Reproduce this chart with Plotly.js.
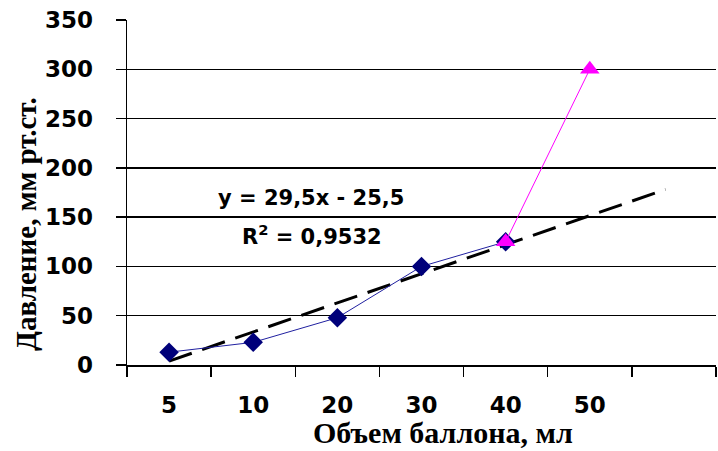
<!DOCTYPE html>
<html><head><meta charset="utf-8">
<script src="https://cdn.plot.ly/plotly-3.0.1.min.js"></script>
<style>html,body{margin:0;padding:0;background:#fff}#c{width:718px;height:451px}</style>
</head><body><div id="c"></div>
<script>
const categories = ["5","10","20","30","40","50"];
const blueValues = [13, 23, 48, 100, 125, null];
const pinkValues = [null, null, null, null, 125, 300];
const trendSlope = 29.5, trendIntercept = -25.5;
const trendStart = 1, trendEnd = 6.9;
const yTicks = [0,50,100,150,200,250,300,350];

const xIdx = categories.map((c,i)=>i+1);
const trendX = [trendStart, trendEnd];
const trendY = trendX.map(x=>trendSlope*x+trendIntercept);

const traces = [
  {x: trendX, y: trendY, mode:'lines', line:{color:'#000', width:3, dash:'24px,11px'}, hoverinfo:'skip'},
  {x: xIdx, y: blueValues, mode:'lines+markers', line:{color:'#2020a0', width:1}, marker:{symbol:'diamond', size:15, color:'#00007a'}},
  {x: xIdx, y: pinkValues, mode:'lines+markers', line:{color:'#ff00ff', width:1}, marker:{symbol:'triangle-up', size:17, color:'#ff00ff'}}
];
const boundaries = [];
for (let i=0;i<=categories.length+1;i++) boundaries.push(i+0.5);

const layout = {
  width:718, height:451, showlegend:false,
  paper_bgcolor:'#fff', plot_bgcolor:'#fff',
  margin:{l:127, r:2, t:20, b:86},
  font:{family:'DejaVu Sans', color:'#000'},
  xaxis:{range:[0.5, categories.length+1.5], tickmode:'array', tickvals:xIdx, ticktext:categories,
    ticks:'', showgrid:false, zeroline:false, showline:true, linecolor:'#000', linewidth:1.5,
    tickfont:{family:'DejaVu Sans', size:23, weight:'bold'}, ticklabelstandoff:19,
    minor:{tickmode:'array', tickvals:boundaries, ticks:'outside', ticklen:10, tickwidth:1.5, tickcolor:'#000', showgrid:false}},
  yaxis:{range:[0,350], tickmode:'array', tickvals:yTicks, ticks:'outside', ticklen:10, tickwidth:1.5, tickcolor:'#000',
    showgrid:true, gridcolor:'#000', gridwidth:1.5, zeroline:false, showline:true, linecolor:'#000', linewidth:1.5,
    tickfont:{family:'DejaVu Sans', size:23, weight:'bold'}, ticklabelstandoff:18},
  annotations:[
    {xref:'paper', yref:'paper', x:(311-127)/589, y:(365-198)/345, xanchor:'center', yanchor:'middle', text:'<b>y = 29,5x - 25,5</b>', showarrow:false, font:{size:21}},
    {xref:'paper', yref:'paper', x:(312-127)/589, y:(365-235)/345, xanchor:'center', yanchor:'middle', text:'<b>R<sup>2</sup> = 0,9532</b>', showarrow:false, font:{size:21}},
    {xref:'paper', yref:'paper', x:(443-127)/589, y:-(432-365)/345, xanchor:'center', yanchor:'middle', text:'<b>Объем баллона, мл</b>', showarrow:false, font:{family:'Liberation Serif', size:30}},
    {xref:'paper', yref:'paper', x:-(127-26)/589, y:(365-224)/345, xanchor:'center', yanchor:'middle', textangle:-90, text:'<b>Давление, мм рт.ст.</b>', showarrow:false, font:{family:'Liberation Serif', size:29}}
  ]
};
Plotly.newPlot('c', traces, layout, {displayModeBar:false, staticPlot:true});
</script></body></html>
